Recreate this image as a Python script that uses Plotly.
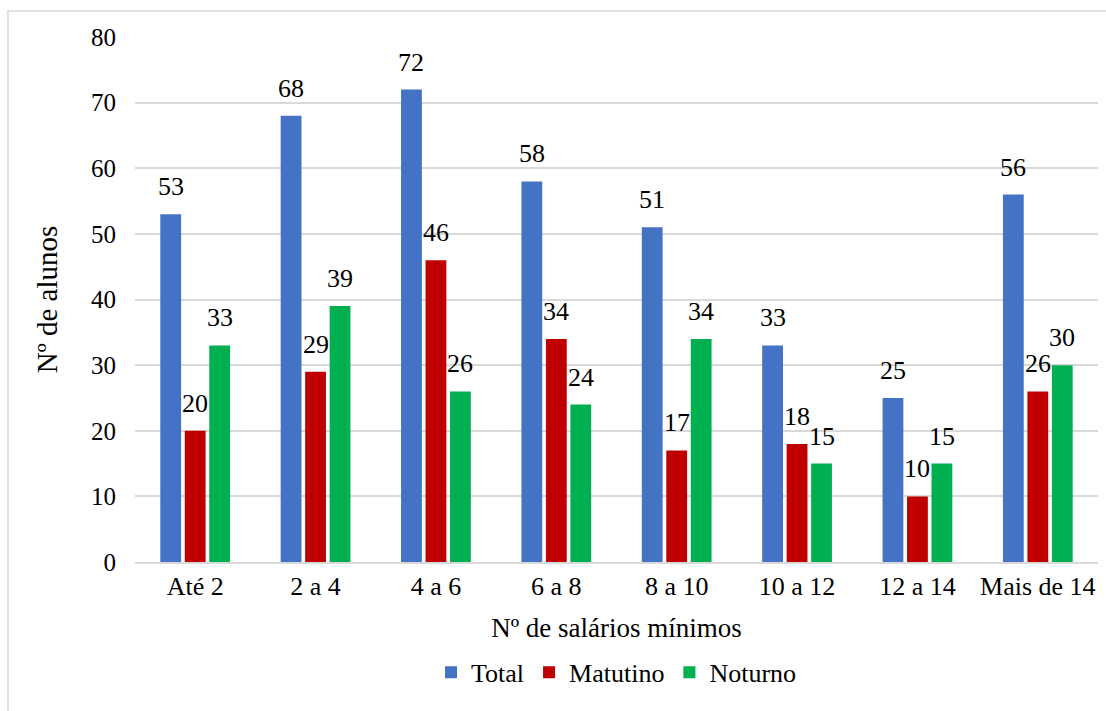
import plotly.graph_objects as go

categories = ["Até 2", "2 a 4", "4 a 6", "6 a 8", "8 a 10", "10 a 12", "12 a 14", "Mais de 14"]
total = [53, 68, 72, 58, 51, 33, 25, 56]
matutino = [20, 29, 46, 34, 17, 18, 10, 26]
noturno = [33, 39, 26, 24, 34, 15, 15, 30]
series = [("Total", total, "#4472C4"), ("Matutino", matutino, "#C00000"), ("Noturno", noturno, "#00B050")]

FONT = "Liberation Serif"
W, H = 1106, 711
ML, MR, MT, MB = 135, 8, 37, 149
BARGAP = 0.39

fig = go.Figure()
for name, vals, color in series:
    fig.add_trace(go.Bar(
        x=categories, y=vals, name=name, marker=dict(color=color, line=dict(width=0)),
    ))

# data labels above each bar, shifted to the bar's slot within its group
plot_w = W - ML - MR
slot = plot_w / len(categories) * (1 - BARGAP) / len(series)
for i, (name, vals, color) in enumerate(series):
    for c, v in zip(categories, vals):
        fig.add_annotation(x=c, y=v, text=str(v), showarrow=False,
                           xanchor="center", yanchor="bottom",
                           xshift=(i - (len(series) - 1) / 2) * slot, yshift=11,
                           font=dict(family=FONT, size=26, color="#000000"))

fig.update_layout(
    width=W, height=H,
    margin=dict(l=ML, r=MR, t=MT, b=MB),
    paper_bgcolor="white", plot_bgcolor="white",
    barmode="group", bargap=BARGAP, bargroupgap=0.15,
    font=dict(family=FONT, size=25, color="#000000"),
    showlegend=True,
    legend=dict(orientation="h", x=0.5, xanchor="center", y=-0.21, yanchor="middle",
                font=dict(family=FONT, size=26), traceorder="normal"),
)
fig.update_xaxes(
    showgrid=False, showline=True, linecolor="#d9d9d9", linewidth=1.5,
    ticks="", tickfont=dict(family=FONT, size=26),
    title=dict(text="Nº de salários mínimos", font=dict(family=FONT, size=27), standoff=18),
)
fig.update_yaxes(
    range=[0, 80], dtick=10, showgrid=True, gridcolor="#d9d9d9", gridwidth=1.5,
    zeroline=False, showline=False, ticks="", ticklabelstandoff=18,
    tickfont=dict(family=FONT, size=25),
    title=dict(text="Nº de alunos", font=dict(family=FONT, size=29), standoff=24),
)
fig.add_shape(type="rect", xref="paper", yref="paper",
              x0=-(ML - 8) / (W - ML - MR), x1=1.0 + 20 / (W - ML - MR),
              y0=-(MB + 20) / (H - MT - MB), y1=1.0 + (MT - 11) / (H - MT - MB),
              line=dict(color="#d9d9d9", width=1.5), layer="below")

fig.write_html("out.html")
